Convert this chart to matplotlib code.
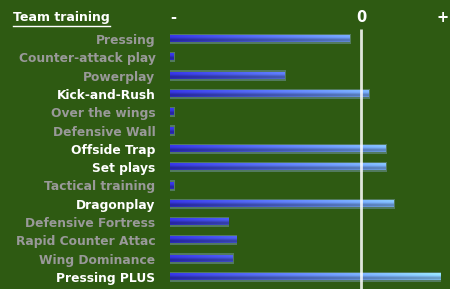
import numpy as np
import matplotlib
matplotlib.use("Agg")
import matplotlib.pyplot as plt
from matplotlib.colors import to_rgb

categories = ["Pressing", "Counter-attack play", "Powerplay", "Kick-and-Rush",
              "Over the wings", "Defensive Wall", "Offside Trap", "Set plays",
              "Tactical training", "Dragonplay", "Defensive Fortress",
              "Rapid Counter Attac", "Wing Dominance", "Pressing PLUS"]
values = [-5.8, -98.3, -39.8, 4.2, -98.3, -98.3, 13.1, 13.1, -98.3, 17.3,
          -69.6, -65.4, -67.0, 41.5]
highlighted = [False, False, False, True, False, False, True, True, False, True,
               False, False, False, True]
axis_labels = ["-", "0", "+"]
title = "Team training"

BG = "#2e5a12"
W, H, DPI = 450, 289, 100
XMIN, XMAX = -100, 43
fig = plt.figure(figsize=(W / DPI, H / DPI), dpi=DPI, facecolor=BG)

left_px, right_px = 170, 443
ax = fig.add_axes([left_px / W, 0, (right_px - left_px) / W, 1])
ax.set_facecolor(BG)
row0, step = 39, 18.3
y_top = -row0 / step
y_bot = (H - row0) / step

c_left = np.array(to_rgb("#3030cc"))
c_right = np.array(to_rgb("#88ccfa"))
bar_h = 0.34
glow_h = 0.56

for i, v in enumerate(values):
    ax.barh(i, v - XMIN + 1.4, left=XMIN - 0.7, height=glow_h,
            color="#a0c0ff", alpha=0.32, zorder=1, linewidth=0)
    n = 200
    xs = np.linspace(XMIN, v, n)
    t = (xs - XMIN) / (XMAX - XMIN)
    base = c_left[None, :] * (1 - t[:, None]) + c_right[None, :] * t[:, None]
    shade = np.array([1.15, 1.15, 1.1, 1.0, 0.85, 0.78, 0.8, 0.92])
    img = np.clip(base[None, :, :] * shade[:, None, None], 0, 1)
    ax.imshow(img, extent=[XMIN, v, i + bar_h / 2, i - bar_h / 2],
              aspect="auto", interpolation="bilinear", zorder=2)

ax.plot([0, 0], [-0.55, y_bot], color="white", lw=2.0, alpha=0.85,
        zorder=3, solid_capstyle="butt")

ax.set_xlim(XMIN, XMAX)
ax.set_ylim(y_bot, y_top)
for s in ax.spines.values():
    s.set_visible(False)
ax.set_xticks([])
ax.set_yticks(range(len(categories)))
ax.set_yticklabels(categories, fontsize=8.8, fontweight="bold")
ax.tick_params(axis="y", length=0, pad=10.5)
for lbl, hl in zip(ax.get_yticklabels(), highlighted):
    lbl.set_color("white" if hl else "#999999")

for xv, txt in zip([XMIN + 1.5, 0, XMAX], axis_labels):
    ax.text(xv, -1.2, txt, color="white", fontsize=10.5, fontweight="bold",
            ha="center", va="center")

fig.text(13 / W, 1 - 18 / H, title, color="white", fontsize=9,
         fontweight="bold", ha="left", va="center")
fig.add_artist(plt.Line2D([13 / W, 110 / W], [1 - 26 / H, 1 - 26 / H],
                          color="white", lw=1))

fig.savefig("out.png", dpi=DPI, facecolor=BG)
